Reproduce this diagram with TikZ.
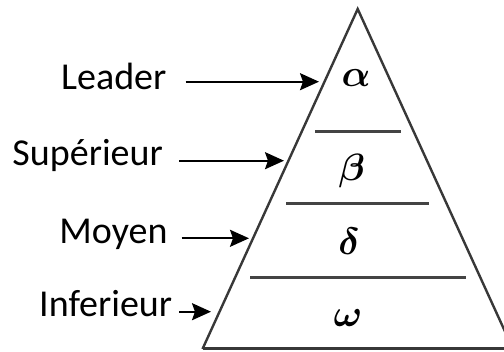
\documentclass[tikz,border=0pt]{standalone}
\usepackage{fontspec}
\usepackage{bm}
\setmainfont{Carlito}
\usetikzlibrary{arrows.meta}
\definecolor{edge}{HTML}{383838}
\definecolor{lvl}{HTML}{444444}
\tikzset{
  lbl/.style={anchor=base west,inner sep=0pt,font=\fontsize{38}{45}\selectfont},
  greek/.style={inner sep=0pt,scale=3.8},
  pointer/.style={draw=black,line width=2pt,-{Stealth[length=19pt,width=17pt,inset=3pt]}},
  side/.style={draw=edge,line width=2.4pt,line join=miter},
  level/.style={draw=lvl,line width=3pt},
}
\begin{document}
\begin{tikzpicture}[x=1pt,y=-1pt]
\useasboundingbox (0,0) rectangle (504,352);
\begin{scope}
\clip (0,0) rectangle (504,352);
\coordinate (apex) at (357.7,9);
\coordinate (bl) at (202.5,349);
\coordinate (br) at (513,349);
\draw[side] (bl) -- (apex) -- (br);
\draw[draw=edge,line width=3pt] (bl) -- (br);
\end{scope}
% level lines
\coordinate (l1a) at (315,131.7); \coordinate (l1b) at (401,131.7);
\coordinate (l2a) at (286,204);   \coordinate (l2b) at (429,204);
\coordinate (l3a) at (250,277.3); \coordinate (l3b) at (465.7,277.3);
\draw[level] (l1a) -- (l1b);
\draw[level] (l2a) -- (l2b);
\draw[level] (l3a) -- (l3b);
% greek letters
\node[greek] (ga) at (356,78) {$\bm{\alpha}$};
\node[greek] (gb) at (351.7,171) {$\bm{\beta}$};
\node[greek] (gd) at (349,241) {$\bm{\delta}$};
\node[greek] (gw) at (348,318) {$\bm{\omega}$};
% labels
\node[lbl] (leader) at (61,90) {Leader};
\node[lbl] (sup) at (12.3,166) {Supérieur};
\node[lbl] (moy) at (59.3,243.3) {Moyen};
\node[lbl] (inf) at (39,316.7) {Inferieur};
% arrows
\coordinate (a1s) at (185.7,81.7); \coordinate (a1e) at (319,81.7);
\coordinate (a2s) at (179,160.7);  \coordinate (a2e) at (284,160.7);
\coordinate (a3s) at (181.7,238.3); \coordinate (a3e) at (249,238.3);
\coordinate (a4s) at (179,311.7);  \coordinate (a4e) at (211,311.7);
\draw[pointer] (a1s) -- (a1e);
\draw[pointer] (a2s) -- (a2e);
\draw[pointer] (a3s) -- (a3e);
\draw[pointer] (a4s) -- (a4e);
\end{tikzpicture}
\end{document}
